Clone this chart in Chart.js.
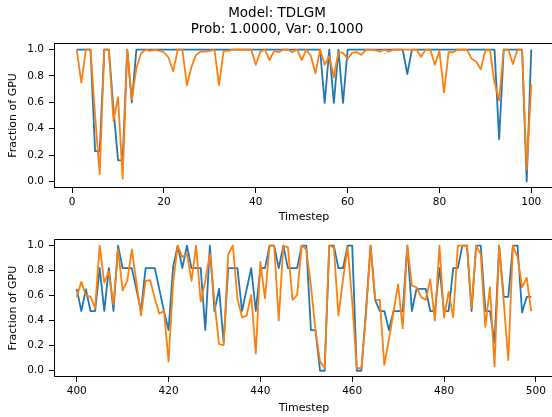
<!DOCTYPE html>
<html>
<head>
<meta charset="utf-8">
<script src="https://cdn.jsdelivr.net/npm/chart.js@4.4.1/dist/chart.umd.min.js"></script>
<style>
  body { margin: 0; background: #fff; }
  #wrap { position: relative; width: 552px; height: 417px; overflow: hidden; }
  canvas { position: absolute; left: 0; }
</style>
</head>
<body>
<div id="wrap">
  <canvas id="topChart" width="556" height="228" style="top:0"></canvas>
  <canvas id="bottomChart" width="556" height="189" style="top:228px"></canvas>
</div>
<script>
// Titles and axis labels
const titleLines = ["Model: TDLGM", "Prob: 1.0000, Var: 0.1000"];
const xLabel = "Timestep";
const yLabel = "Fraction of GPU";

// First timestep of each panel, and tick labels
const topStart = 1;
const bottomStart = 400;
const topTicks = [0, 20, 40, 60, 80, 100];
const bottomTicks = [400, 420, 440, 460, 480, 500];
const yTicks = [0, 0.2, 0.4, 0.6, 0.8, 1.0];

// Top panel, timesteps 1..100
const topBlue = [
  1, 1, 1, 1, 0.23, 0.23, 1, 1, 0.55, 0.16,
  0.16, 1, 0.6, 1, 1, 1, 1, 1, 1, 1,
  1, 1, 1, 1, 1, 1, 1, 1, 1, 1,
  1, 1, 1, 1, 1, 1, 1, 1, 1, 1,
  1, 1, 1, 1, 1, 1, 1, 1, 1, 1,
  1, 1, 1, 1, 0.595, 1, 0.595, 1, 0.595, 1,
  1, 1, 1, 1, 1, 1, 1, 1, 1, 1,
  1, 1, 0.815, 1, 1, 1, 1, 1, 1, 1,
  1, 1, 1, 1, 1, 1, 1, 1, 1, 1,
  1, 1, 0.32, 1, 1, 1, 1, 1, 0.0, 1
];
const topOrange = [
  1, 0.75, 1, 1, 0.5, 0.055, 1, 1, 0.46, 0.64,
  0.02, 1, 0.62, 0.86, 0.97, 1, 0.99, 1, 0.99, 0.98,
  0.94, 0.835, 1, 1, 0.73, 0.87, 0.96, 0.985, 0.985, 0.99,
  1, 0.73, 0.99, 0.99, 1, 1, 1, 1, 1, 0.885,
  0.985, 1, 0.92, 0.99, 0.98, 1, 1, 0.98, 1, 0.92,
  1, 0.95, 0.82, 1, 0.885, 0.95, 0.79, 0.98, 0.975, 0.93,
  0.975, 0.98, 0.96, 1, 1, 0.995, 0.985, 1, 0.985, 1,
  1, 1, 1, 1, 1, 0.945, 1, 1, 0.885, 0.99,
  0.675, 0.98, 0.98, 1, 1, 1, 0.93, 0.91, 0.85, 0.995,
  0.995, 0.75, 0.615, 1, 1, 0.89, 1, 1, 0.09, 0.735
];

// Bottom panel, timesteps 400..499
const bottomBlue = [
  0.654, 0.477, 0.65, 0.477, 0.477, 0.82, 0.477, 0.82, 0.477, 1.0,
  0.82, 0.82, 0.82, 0.65, 0.477, 0.82, 0.82, 0.82, 0.65, 0.477,
  0.325, 0.83, 1.0, 0.82, 1.0, 0.82, 0.82, 0.82, 0.325, 1.0,
  0.477, 0.654, 0.225, 0.82, 0.82, 0.82, 0.477, 0.65, 0.82, 0.477,
  0.82, 0.82, 1.0, 1.0, 0.82, 1.0, 0.82, 0.82, 0.82, 1.0,
  1.0, 0.325, 0.325, 0.0, 0.0, 1.0, 1.0, 0.82, 0.82, 1.0,
  1.0, 0.0, 0.0, 0.48, 1.0, 0.566, 0.477, 0.477, 0.325, 0.477,
  0.477, 0.477, 1.0, 0.477, 0.654, 0.654, 0.654, 0.477, 0.477, 0.82,
  0.477, 0.477, 0.82, 0.82, 1.0, 1.0, 0.477, 1.0, 1.0, 0.477,
  0.477, 0.225, 1.0, 0.59, 0.59, 1.0, 1.0, 0.465, 0.59, 0.59
];
const bottomOrange = [
  0.59, 0.71, 0.604, 0.59, 0.50, 1.0, 0.705, 0.794, 0.528, 0.97,
  0.642, 0.718, 0.97, 0.705, 0.44, 0.718, 0.723, 0.578, 0.455, 0.48,
  0.073, 0.705, 1.0, 0.908, 0.933, 0.718, 1.0, 0.553, 0.718, 0.933,
  0.55, 0.212, 0.205, 0.93, 1.0, 0.578, 0.427, 0.44, 0.604, 0.136,
  0.87, 0.578, 1.0, 1.0, 0.40, 1.0, 0.985, 0.566, 0.604, 1.0,
  0.97, 0.68, 0.325, 0.073, 0.022, 1.0, 0.985, 0.44, 0.73, 0.985,
  0.55, 0.02, 0.02, 0.45, 1.0, 0.566, 0.566, 0.047, 0.25, 0.47,
  0.69, 0.338, 1.0, 0.68, 0.667, 0.59, 0.566, 0.73, 0.40, 1.0,
  0.427, 0.63, 0.427, 1.0, 1.0, 1.0, 0.5, 1.0, 0.93, 0.35,
  0.667, 0.035, 1.0, 0.55, 0.085, 1.0, 0.91, 0.667, 0.743, 0.477
];

Chart.defaults.font.family = "'DejaVu Sans', sans-serif";
Chart.defaults.font.size = 10.5;
Chart.defaults.color = "#000";

// box around the plot area, like matplotlib spines
const framePlugin = {
  id: "frame",
  afterDatasetsDraw(chart) {
    const { ctx, chartArea: a } = chart;
    ctx.save();
    ctx.strokeStyle = "#000";
    ctx.lineWidth = 1;
    ctx.strokeRect(Math.round(a.left) + 0.5, Math.round(a.top) + 0.5,
      Math.round(a.right - a.left) - 1, Math.round(a.bottom - a.top) - 1);
    ctx.restore();
  }
};

function makeChart(id, start, blue, orange, xTicks, opt) {
  const xs = blue.map((_, i) => start + i);
  const pad = 0.05 * (xs[xs.length - 1] - xs[0]);
  const tickGrid = { drawOnChartArea: false, drawTicks: true, tickLength: 5, color: "#000" };

  return new Chart(document.getElementById(id), {
    type: "line",
    data: {
      datasets: [
        { label: "orange", data: xs.map((x, i) => ({ x: x, y: orange[i] })), borderColor: "#ff7f0e", order: 0 },
        { label: "blue", data: xs.map((x, i) => ({ x: x, y: blue[i] })), borderColor: "#1f77b4", order: 1 }
      ]
    },
    options: {
      responsive: false,
      animation: false,
      devicePixelRatio: 1,
      layout: { padding: opt.padding },
      elements: {
        line: { borderWidth: 1.8, tension: 0, borderJoinStyle: "round", fill: false },
        point: { radius: 0 }
      },
      scales: {
        x: {
          type: "linear",
          min: xs[0] - pad,
          max: xs[xs.length - 1] + pad,
          afterBuildTicks: ax => { ax.ticks = xTicks.map(v => ({ value: v })); },
          afterFit: ax => { ax.height = opt.xHeight; },
          grid: tickGrid,
          border: { display: false },
          ticks: { padding: 3, autoSkip: false, maxRotation: 0, callback: v => String(v) },
          title: { display: true, text: xLabel, font: { size: 11 }, padding: { top: 0, bottom: opt.xTitlePad } }
        },
        y: {
          min: -0.05,
          max: 1.05,
          afterBuildTicks: ax => { ax.ticks = yTicks.map(v => ({ value: v })); },
          afterFit: ax => { ax.width = 54; },
          grid: tickGrid,
          border: { display: false },
          ticks: { padding: 5, callback: v => v.toFixed(1) },
          title: { display: true, text: yLabel, font: { size: 11 }, padding: { top: 7, bottom: 0 } }
        }
      },
      plugins: {
        legend: { display: false },
        tooltip: { enabled: false },
        title: opt.title
      }
    },
    plugins: [framePlugin]
  });
}

makeChart("topChart", topStart, topBlue, topOrange, topTicks, {
  padding: { top: 0, left: 0, right: 2, bottom: 0 },
  xHeight: 40,
  xTitlePad: 4.4,
  title: {
    display: true,
    text: titleLines,
    font: { size: 13.5, weight: "normal" },
    padding: { top: 5, bottom: 5.6 },
    color: "#000"
  }
});

makeChart("bottomChart", bottomStart, bottomBlue, bottomOrange, bottomTicks, {
  padding: { top: 4.7, left: 0, right: 2, bottom: 0 },
  xHeight: 40,
  xTitlePad: 2.4,
  title: { display: false }
});
</script>
</body>
</html>
